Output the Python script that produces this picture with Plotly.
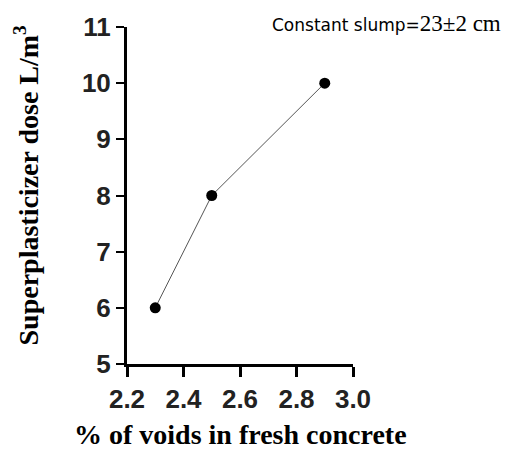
import plotly.graph_objects as go

voids = [2.3, 2.5, 2.9]
dose = [6, 8, 10]
x_ticks = [2.2, 2.4, 2.6, 2.8, 3.0]
x_ticklabels = ["2.2", "2.4", "2.6", "2.8", "3.0"]
y_ticks = [5, 6, 7, 8, 9, 10, 11]

fig = go.Figure()
fig.add_trace(go.Scatter(
    x=voids, y=dose, mode="lines+markers",
    line=dict(color="#555555", width=1),
    marker=dict(color="black", size=11),
    cliponaxis=False, showlegend=False,
))

tickfont = dict(family="Liberation Sans", size=26, color="#222222", weight="bold")

fig.update_layout(
    width=511, height=451,
    margin=dict(l=127, r=158, t=25, b=87),
    paper_bgcolor="white", plot_bgcolor="white",
    xaxis=dict(
        range=[2.2, 3.0], tickvals=x_ticks, ticktext=x_ticklabels,
        showgrid=False, zeroline=False, showline=True, linecolor="black", linewidth=3,
        ticks="outside", ticklen=10, tickwidth=3, tickcolor="black",
        tickfont=tickfont,
    ),
    yaxis=dict(
        range=[5, 11], tickvals=y_ticks,
        showgrid=False, zeroline=False, showline=True, linecolor="black", linewidth=3,
        ticks="outside", ticklen=8, tickwidth=2, tickcolor="black",
        tickfont=tickfont,
    ),
    annotations=[
        dict(text="Superplasticizer dose L/m<sup>3</sup>", textangle=-90,
             xref="paper", yref="paper", x=-0.445, y=0.531,
             xanchor="center", yanchor="middle", showarrow=False,
             font=dict(family="Liberation Serif", size=28, color="black", weight="bold")),
        dict(text="% of voids in fresh concrete",
             xref="paper", yref="paper", x=0.504, y=-0.208,
             xanchor="center", yanchor="middle", showarrow=False,
             font=dict(family="Liberation Serif", size=28, color="black", weight="bold")),
        dict(text="Constant slump=<span style='font-family:Liberation Serif;font-size:23px'>23±2 cm</span>",
             xref="paper", yref="paper", x=1.664, y=1.009,
             xanchor="right", yanchor="middle", showarrow=False,
             font=dict(family="DejaVu Sans", size=17, color="black")),
    ],
)

fig.write_html("out.html")
